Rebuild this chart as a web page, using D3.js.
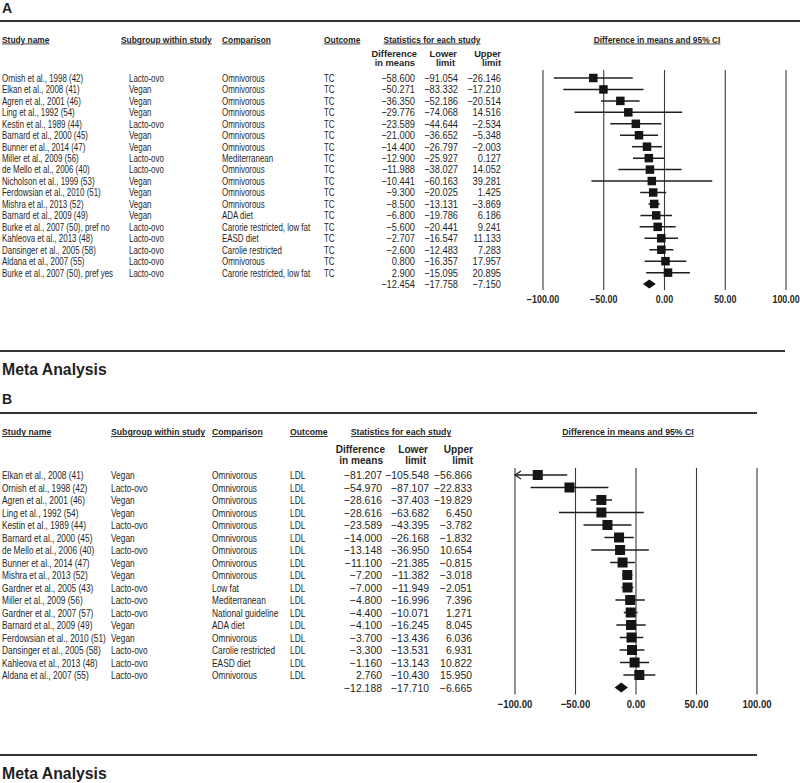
<!DOCTYPE html>
<html>
<head>
<meta charset="utf-8">
<script src="https://cdn.jsdelivr.net/npm/d3@7"></script>
<style>
  html, body { margin: 0; padding: 0; background: #fff; }
  svg { display: block; font-family: "Liberation Sans", Arial, sans-serif; }
</style>
</head>
<body>
<svg id="chart" width="800" height="783"></svg>
<script>
// ---------------- DATA ----------------
const ticks = [-100, -50, 0, 50, 100];

// Panel A: total cholesterol (TC)
const studiesA = ["Ornish et al., 1998 (42)", "Elkan et al., 2008 (41)", "Agren et al., 2001 (46)", "Ling et al., 1992 (54)",
  "Kestin et al., 1989 (44)", "Barnard et al., 2000 (45)", "Bunner et al., 2014 (47)", "Miller et al., 2009 (56)",
  "de Mello et al., 2006 (40)", "Nicholson et al., 1999 (53)", "Ferdowsian et al., 2010 (51)", "Mishra et al., 2013 (52)",
  "Barnard et al., 2009 (49)", "Burke et al., 2007 (50), pref no", "Kahleova et al., 2013 (48)", "Dansinger et al., 2005 (58)",
  "Aldana et al., 2007 (55)", "Burke et al., 2007 (50), pref yes"];
const subgroupsA = ["Lacto-ovo", "Vegan", "Vegan", "Vegan", "Lacto-ovo", "Vegan", "Vegan", "Lacto-ovo", "Lacto-ovo", "Vegan",
  "Vegan", "Vegan", "Vegan", "Lacto-ovo", "Lacto-ovo", "Lacto-ovo", "Lacto-ovo", "Lacto-ovo"];
const comparisonsA = ["Omnivorous", "Omnivorous", "Omnivorous", "Omnivorous", "Omnivorous", "Omnivorous", "Omnivorous",
  "Mediterranean", "Omnivorous", "Omnivorous", "Omnivorous", "Omnivorous", "ADA diet", "Carorie restricted, low fat",
  "EASD diet", "Carolie restricted", "Omnivorous", "Carorie restricted, low fat"];
const outcomeA = "TC";
const diffA  = [-58.600, -50.271, -36.350, -29.776, -23.589, -21.000, -14.400, -12.900, -11.988, -10.441, -9.300, -8.500, -6.800, -5.600, -2.707, -2.600, 0.800, 2.900];
const lowerA = [-91.054, -83.332, -52.186, -74.068, -44.644, -36.652, -26.797, -25.927, -38.027, -60.163, -20.025, -13.131, -19.786, -20.441, -16.547, -12.483, -16.357, -15.095];
const upperA = [-26.146, -17.210, -20.514, 14.516, -2.534, -5.348, -2.003, 0.127, 14.052, 39.281, 1.425, -3.869, 6.186, 9.241, 11.133, 7.283, 17.957, 20.895];
const summaryA = [-12.454, -17.758, -7.150];

// Panel B: LDL cholesterol
const studiesB = ["Elkan et al., 2008 (41)", "Ornish et al., 1998 (42)", "Agren et al., 2001 (46)", "Ling et al., 1992 (54)",
  "Kestin et al., 1989 (44)", "Barnard et al., 2000 (45)", "de Mello et al., 2006 (40)", "Bunner et al., 2014 (47)",
  "Mishra et al., 2013 (52)", "Gardner et al., 2005 (43)", "Miller et al., 2009 (56)", "Gardner et al., 2007 (57)",
  "Barnard et al., 2009 (49)", "Ferdowsian et al., 2010 (51)", "Dansinger et al., 2005 (58)", "Kahleova et al., 2013 (48)",
  "Aldana et al., 2007 (55)"];
const subgroupsB = ["Vegan", "Lacto-ovo", "Vegan", "Vegan", "Lacto-ovo", "Vegan", "Lacto-ovo", "Vegan", "Vegan", "Lacto-ovo",
  "Lacto-ovo", "Lacto-ovo", "Vegan", "Vegan", "Lacto-ovo", "Lacto-ovo", "Lacto-ovo"];
const comparisonsB = ["Omnivorous", "Omnivorous", "Omnivorous", "Omnivorous", "Omnivorous", "Omnivorous", "Omnivorous",
  "Omnivorous", "Omnivorous", "Low fat", "Mediterranean", "National guideline", "ADA diet", "Omnivorous",
  "Carolie restricted", "EASD diet", "Omnivorous"];
const outcomeB = "LDL";
const diffB  = [-81.207, -54.970, -28.616, -28.616, -23.589, -14.000, -13.148, -11.100, -7.200, -7.000, -4.800, -4.400, -4.100, -3.700, -3.300, -1.160, 2.760];
const lowerB = [-105.548, -87.107, -37.403, -63.682, -43.395, -26.168, -36.950, -21.385, -11.382, -11.949, -16.996, -10.071, -16.245, -13.436, -13.531, -13.143, -10.430];
const upperB = [-56.866, -22.833, -19.829, 6.450, -3.782, -1.832, 10.654, -0.815, -3.018, -2.051, 7.396, 1.271, 8.045, 6.036, 6.931, 10.822, 15.950];
const summaryB = [-12.188, -17.710, -6.665];

// ---------------- DRAWING ----------------
const svg = d3.select("#chart");
const INK = "#1f1f1f";
const fmt3 = d3.format(".3f");
const fmt2 = d3.format(".2f");

function txt(g, x, y, s, o) {
  const t = g.append("text")
    .attr("transform", `translate(${x},${y}) scale(${o.sx || 1},1)`)
    .attr("text-anchor", o.anchor || "start")
    .style("font-size", o.size + "px")
    .style("font-weight", o.weight || "normal")
    .attr("fill", o.fill || INK)
    .text(s);
  if (o.underline) t.attr("text-decoration", "underline");
  return t;
}

function drawPanel(cfg, d) {
  const g = svg.append("g");
  const F = cfg.font;
  const base = (v, fs) => v + 0.36 * fs;

  // panel letter and top rule
  txt(g, 2, cfg.letterY, cfg.letter, { size: 14, weight: "bold" });
  g.append("line").attr("x1", 0).attr("x2", cfg.ruleX2).attr("y1", cfg.ruleY).attr("y2", cfg.ruleY)
    .attr("stroke", "#333").attr("stroke-width", 2);

  // headers
  const hs = { size: F.head, weight: "bold", sx: 1, underline: true };
  const hy = base(cfg.headY, F.head);
  txt(g, cfg.col.name, hy, "Study name", hs);
  txt(g, cfg.col.subH, hy, "Subgroup within study", hs);
  txt(g, cfg.col.comp, hy, "Comparison", hs);
  txt(g, cfg.col.out, hy, "Outcome", hs);
  txt(g, cfg.statsC, hy, "Statistics for each study", Object.assign({}, hs, { anchor: "middle" }));
  txt(g, cfg.ciC, hy, "Difference in means and 95% CI", Object.assign({}, hs, { anchor: "middle" }));

  const ss = { size: F.sub, weight: "bold", sx: 1, anchor: "end" };
  const s1 = base(cfg.sub1Y, F.sub), s2 = base(cfg.sub2Y, F.sub);
  txt(g, cfg.subR[0], s1, "Difference", ss);
  txt(g, cfg.subR[0] - 2, s2, "in means", ss);
  txt(g, cfg.subR[1], s1, "Lower", ss);
  txt(g, cfg.subR[1] - 2, s2, "limit", ss);
  txt(g, cfg.subR[2], s1, "Upper", ss);
  txt(g, cfg.subR[2], s2, "limit", ss);

  const n = d.studies.length;
  const y = d3.scaleLinear().domain([0, 1]).range([cfg.row0, cfg.row0 + cfg.step]);
  const x = d3.scaleLinear().domain([ticks[0], ticks[ticks.length - 1]]).range(cfg.xRange);
  const ySum = y(n);

  // row labels
  const rs = { size: F.row, sx: F.rowSx };
  const ns = { size: F.row, sx: F.numSx, anchor: "end" };
  d.studies.forEach((s, i) => {
    const yy = base(y(i), F.row);
    txt(g, cfg.col.name, yy, s, rs);
    txt(g, cfg.col.sub, yy, d.subgroups[i], rs);
    txt(g, cfg.col.comp, yy, d.comparisons[i], rs);
    txt(g, cfg.col.out, yy, d.outcome, rs);
    txt(g, cfg.numR[0], yy, fmt3(d.diff[i]), ns);
    txt(g, cfg.numR[1], yy, fmt3(d.lower[i]), ns);
    txt(g, cfg.numR[2], yy, fmt3(d.upper[i]), ns);
  });
  const ys = base(ySum, F.row);
  txt(g, cfg.numR[0], ys, fmt3(d.summary[0]), ns);
  txt(g, cfg.numR[1], ys, fmt3(d.summary[1]), ns);
  txt(g, cfg.numR[2], ys, fmt3(d.summary[2]), ns);

  // vertical reference lines
  g.selectAll(".vl").data(ticks).enter().append("line")
    .attr("x1", t => x(t)).attr("x2", t => x(t))
    .attr("y1", cfg.gridTop).attr("y2", ySum + cfg.gridPad)
    .attr("stroke", "#3a3a3a").attr("stroke-width", 1.1);

  // tick labels
  ticks.forEach(t => txt(g, x(t), base(ySum + cfg.tickGap, F.tick), fmt2(t),
    { size: F.tick, weight: "bold", sx: 0.87, anchor: "middle" }));

  // CI lines
  const xmin = ticks[0], xmax = ticks[ticks.length - 1];
  d.studies.forEach((s, i) => {
    const lo = Math.max(d.lower[i], xmin), hi = Math.min(d.upper[i], xmax);
    g.append("line").attr("x1", x(lo)).attr("x2", x(hi)).attr("y1", y(i)).attr("y2", y(i))
      .attr("stroke", INK).attr("stroke-width", 1.5);
    if (d.lower[i] < xmin) {
      const ax = x(xmin);
      g.append("path").attr("d", `M${ax + 6},${y(i) - 4}L${ax},${y(i)}L${ax + 6},${y(i) + 4}`)
        .attr("fill", "none").attr("stroke", INK).attr("stroke-width", 1.2);
    }
    if (d.upper[i] > xmax) {
      const ax = x(xmax);
      g.append("path").attr("d", `M${ax - 6},${y(i) - 4}L${ax},${y(i)}L${ax - 6},${y(i) + 4}`)
        .attr("fill", "none").attr("stroke", INK).attr("stroke-width", 1.2);
    }
  });
  // squares
  g.selectAll(".sq").data(d.diff).enter().append("rect")
    .attr("x", (v) => x(v) - cfg.sq / 2).attr("y", (v, i) => y(i) - cfg.sq / 2)
    .attr("width", cfg.sq).attr("height", cfg.sq).attr("fill", "#151515");

  // summary diamond
  const [m, lo, hi] = d.summary;
  const h = cfg.diamondH;
  g.append("path")
    .attr("d", `M${x(lo)},${ySum}L${x(m)},${ySum - h}L${x(hi)},${ySum}L${x(m)},${ySum + h}Z`)
    .attr("fill", "#111");

  // bottom rule + Meta Analysis
  g.append("line").attr("x1", 0).attr("x2", cfg.metaX2).attr("y1", cfg.metaLineY).attr("y2", cfg.metaLineY)
    .attr("stroke", "#333").attr("stroke-width", 2);
  txt(g, 2, cfg.metaY, "Meta Analysis", { size: 16.3, weight: "bold", sx: 0.97 });
}

drawPanel({
  letter: "A", letterY: 13, ruleY: 21, ruleX2: 800,
  font: { head: 8.4, sub: 9.3, row: 10.8, rowSx: 0.735, numSx: 0.86, tick: 10.2 },
  headY: 39.5, sub1Y: 53.5, sub2Y: 63, row0: 78, step: 11.45,
  col: { name: 2, subH: 121, sub: 129, comp: 222, out: 324 },
  subR: [417, 457, 501], numR: [415, 458, 501],
  statsC: 432, ciC: 657, xRange: [543, 786], gridTop: 70, gridPad: 6, tickGap: 15, sq: 8.5, diamondH: 4.5,
  metaLineY: 351, metaX2: 785, metaY: 375
}, { studies: studiesA, subgroups: subgroupsA, comparisons: comparisonsA, outcome: outcomeA,
     diff: diffA, lower: lowerA, upper: upperA, summary: summaryA });

drawPanel({
  letter: "B", letterY: 404, ruleY: 413, ruleX2: 757,
  font: { head: 8.7, sub: 10.1, row: 11.6, rowSx: 0.72, numSx: 0.9, tick: 11 },
  headY: 432, sub1Y: 449, sub2Y: 460, row0: 475, step: 12.5,
  col: { name: 2, subH: 111, sub: 111, comp: 212, out: 290 },
  subR: [385, 428, 473], numR: [382, 429, 472],
  statsC: 401, ciC: 628, xRange: [515, 757], gridTop: 468, gridPad: 7, tickGap: 17, sq: 10, diamondH: 5,
  metaLineY: 755, metaX2: 757, metaY: 779
}, { studies: studiesB, subgroups: subgroupsB, comparisons: comparisonsB, outcome: outcomeB,
     diff: diffB, lower: lowerB, upper: upperB, summary: summaryB });
</script>
</body>
</html>
